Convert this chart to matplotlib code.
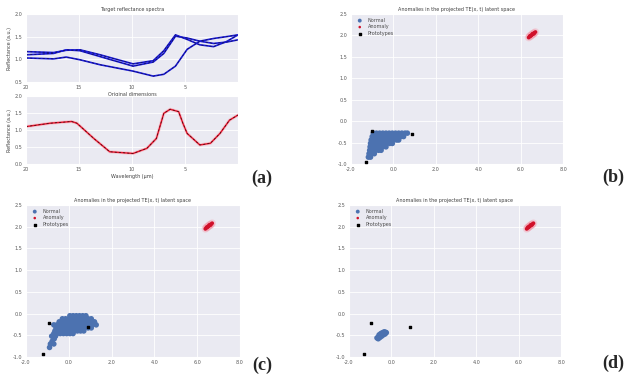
import numpy as np
import matplotlib
matplotlib.use("Agg")
import matplotlib.pyplot as plt
import seaborn as sns

sns.set_style("darkgrid")
plt.rcParams['font.family'] = ['DejaVu Sans']

# --- panel (a): spectra ---
wl_top = [20, 17.4, 16.2, 14.9, 13.0, 9.9, 8.0, 7.0, 5.9, 4.8, 3.6, 2.3, 1.1, 0.0]
spec_a = [1.17, 1.15, 1.20, 1.21, 1.10, 0.90, 0.97, 1.19, 1.54, 1.44, 1.32, 1.28, 1.39, 1.54]
spec_b = [1.10, 1.13, 1.21, 1.19, 1.06, 0.85, 0.94, 1.13, 1.51, 1.47, 1.40, 1.35, 1.38, 1.43]
spec_c = [1.03, 1.01, 1.05, 0.99, 0.88, 0.74, 0.63, 0.67, 0.85, 1.22, 1.40, 1.46, 1.50, 1.54]

wl_bot = [20, 17.7, 15.7, 15.2, 13.6, 12.1, 9.9, 8.6, 7.7, 7.0, 6.4, 5.6, 5.2, 4.8, 3.6, 2.6, 1.7, 0.8, 0.0]
spec_red = [1.10, 1.20, 1.25, 1.20, 0.75, 0.36, 0.31, 0.46, 0.75, 1.49, 1.61, 1.54, 1.20,
            0.90, 0.56, 0.61, 0.90, 1.29, 1.44]

# --- panels (b)-(d): latent scatter ---
anom_x = [6.38, 6.42, 6.45, 6.48, 6.52, 6.55, 6.58, 6.62, 6.65, 6.70, 6.44, 6.50, 6.56, 6.63]
anom_y = [1.95, 1.97, 1.98, 1.99, 2.01, 2.02, 2.03, 2.05, 2.06, 2.08, 1.99, 2.00, 2.04, 2.04]

proto_b = [(-1.02, -0.24), (0.86, -0.31), (-1.29, -0.95)]
proto_c = [(-0.93, -0.21), (0.91, -0.30), (-1.19, -0.94)]
proto_d = [(-0.98, -0.21), (0.88, -0.30), (-1.28, -0.93)]

normal_b_rows = {
    -0.28: [-0.95, -0.8, -0.65, -0.5, -0.35, -0.2, -0.05, 0.1, 0.25, 0.4, 0.55, 0.66],
    -0.36: [-1.0, -0.85, -0.7, -0.55, -0.4, -0.25, -0.1, 0.05, 0.2, 0.35, 0.48],
    -0.44: [-1.05, -0.9, -0.75, -0.6, -0.45, -0.3, -0.15, 0.0, 0.15, 0.25],
    -0.52: [-1.08, -0.93, -0.78, -0.63, -0.48, -0.33, -0.18, -0.05],
    -0.60: [-1.1, -0.95, -0.8, -0.65, -0.5, -0.35],
    -0.68: [-1.12, -0.98, -0.84, -0.7, -0.58],
    -0.76: [-1.15, -1.02, -0.9],
    -0.84: [-1.18, -1.08],
}
normal_c_rows = {
    -0.05: [0.05, 0.2, 0.35, 0.5, 0.65, 0.8],
    -0.12: [-0.3, -0.15, 0.0, 0.15, 0.3, 0.45, 0.6, 0.75, 0.9, 1.05],
    -0.19: [-0.45, -0.3, -0.15, 0.0, 0.15, 0.3, 0.45, 0.6, 0.75, 0.9, 1.05, 1.2],
    -0.26: [-0.7, -0.55, -0.4, -0.25, -0.1, 0.05, 0.2, 0.35, 0.5, 0.65, 0.8, 0.95, 1.1, 1.28],
    -0.33: [-0.6, -0.45, -0.3, -0.15, 0.0, 0.15, 0.3, 0.45, 0.6, 0.75, 0.9, 1.05],
    -0.40: [-0.65, -0.5, -0.35, -0.2, -0.05, 0.1, 0.25, 0.4, 0.55, 0.7],
    -0.46: [-0.7, -0.55, -0.4, -0.25, -0.1, 0.05, 0.2],
    -0.52: [-0.8, -0.62],
    -0.58: [-0.68],
    -0.64: [-0.78],
    -0.70: [-0.86, -0.7],
    -0.78: [-0.9],
}
normal_d_x = [-0.68, -0.60, -0.52, -0.44, -0.36, -0.28, -0.62, -0.54, -0.46, -0.38, -0.30,
              -0.58, -0.50, -0.42, -0.34, -0.24]
normal_d_y = [-0.56, -0.53, -0.50, -0.47, -0.45, -0.43, -0.58, -0.55, -0.52, -0.49, -0.47,
              -0.49, -0.46, -0.44, -0.42, -0.44]

scatter_xticks = [-2, 0, 2, 4, 6, 8]
scatter_yticks = [-1.0, -0.5, 0.0, 0.5, 1.0, 1.5, 2.0, 2.5]
scatter_title = "Anomalies in the projected TE(x, t) latent space"
labels = ["Normal", "Anomaly", "Prototypes"]

W, H = 629, 380
fig = plt.figure(figsize=(W / 100, H / 100), dpi=100)


def box(l, t, r, b):
    return [l / W, 1 - b / H, (r - l) / W, (b - t) / H]


tick_kw = dict(labelsize=3.5, labelcolor='0.35', pad=2.5, length=0)


def rows_to_xy(rows):
    xs, ys = [], []
    for y, xlist in rows.items():
        xs += xlist
        ys += [y] * len(xlist)
    return xs, ys


def scatter_panel(ax, nx, ny, protos):
    ax.scatter(nx, ny, s=16, color='#4C72B0', edgecolors='none', label=labels[0], zorder=2)
    ax.scatter(anom_x, anom_y, s=30, color='#f4a0b0', alpha=0.35, edgecolors='none', zorder=2)
    ax.scatter(anom_x, anom_y, s=7, color='#d0102a', edgecolors='none', label=labels[1], zorder=3)
    px, py = zip(*protos)
    ax.scatter(px, py, s=4, marker='s', color='black', label=labels[2], zorder=4)
    ax.set_xlim(scatter_xticks[0], scatter_xticks[-1])
    ax.set_ylim(scatter_yticks[0], scatter_yticks[-1])
    ax.set_xticks(scatter_xticks)
    ax.set_yticks(scatter_yticks)
    ax.set_xticklabels([f"{v:.1f}" for v in scatter_xticks])
    ax.set_yticklabels([f"{v:.1f}" for v in scatter_yticks])
    ax.tick_params(**tick_kw)
    ax.grid(color='white', linewidth=0.6)
    ax.set_title(scatter_title, fontsize=3.5, pad=2, color='0.25')
    leg = ax.legend(loc='upper left', fontsize=3.5, frameon=False, markerscale=0.7,
                    handletextpad=0.6, borderaxespad=0.4, labelspacing=0.3)
    for t in leg.get_texts():
        t.set_color('0.3')


# (a) top
ax1 = fig.add_axes(box(26, 14, 238, 82))
for s in (spec_a, spec_b, spec_c):
    ax1.plot(wl_top, s, color='#1a1ad8', lw=1.2)
    ax1.plot(wl_top, s, color='#10104a', lw=0.5, ls=(0, (3, 3)))
ax1.set_xlim(20, 0)
ax1.set_ylim(0.5, 2.0)
ax1.set_xticks([20, 15, 10, 5])
ax1.set_yticks([0.5, 1.0, 1.5, 2.0])
ax1.tick_params(**tick_kw)
ax1.grid(color='white', linewidth=0.6)
ax1.set_title("Target reflectance spectra", fontsize=3.5, pad=2, color='0.25')
ax1.set_xlabel("Original dimensions", fontsize=3.5, labelpad=1, color='0.25')
ax1.set_ylabel("Reflectance (a.u.)", fontsize=3.5, labelpad=2, color='0.25')

# (a) bottom
ax2 = fig.add_axes(box(26, 96, 238, 164))
ax2.plot(wl_bot, spec_red, color='#ff8090', lw=2.2, alpha=0.35)
ax2.plot(wl_bot, spec_red, color='#e8102a', lw=1.0)
ax2.plot(wl_bot, spec_red, color='#301010', lw=0.5, ls=(0, (3, 3)))
ax2.set_xlim(20, 0)
ax2.set_ylim(0, 2.0)
ax2.set_xticks([20, 15, 10, 5])
ax2.set_yticks([0, 0.5, 1.0, 1.5, 2.0])
ax2.tick_params(**tick_kw)
ax2.grid(color='white', linewidth=0.6)
ax2.set_xlabel("Wavelength (\u00b5m)", fontsize=3.5, labelpad=1, color='0.25')
ax2.set_ylabel("Reflectance (a.u.)", fontsize=3.5, labelpad=2, color='0.25')

# (b)
axb = fig.add_axes(box(351, 14, 563, 164))
bx, by = rows_to_xy(normal_b_rows)
scatter_panel(axb, bx, by, proto_b)

# (c)
axc = fig.add_axes(box(26, 205, 240, 357))
cx, cy = rows_to_xy(normal_c_rows)
scatter_panel(axc, cx, cy, proto_c)

# (d)
axd = fig.add_axes(box(349, 205, 561, 357))
scatter_panel(axd, normal_d_x, normal_d_y, proto_d)

# panel letters
lab_kw = dict(fontsize=13, fontweight='bold', family='Liberation Serif',
              ha='center', va='center')
for txt, x, y in [("(a)", 262, 178), ("(b)", 613, 177), ("(c)", 262, 365), ("(d)", 613, 363)]:
    fig.text(x / W, 1 - y / H, txt, **lab_kw)

fig.savefig("out.png", dpi=100)
